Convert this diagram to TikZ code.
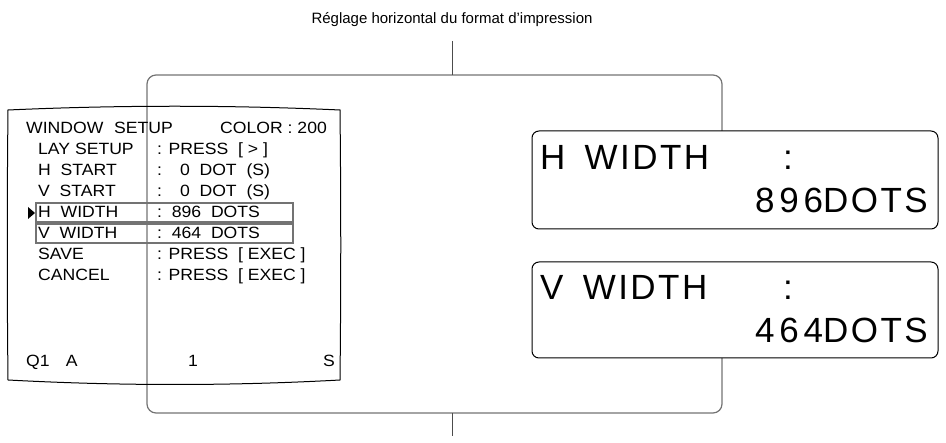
\documentclass[tikz,border=0pt]{standalone}
\usepackage{fontspec}
\setmainfont{Liberation Sans}
\newfontfamily\bigsp[LetterSpace=7]{Liberation Sans}
\newfontfamily\bigdig[LetterSpace=14]{Liberation Sans}
\newfontfamily\scrfont[FakeStretch=1.08]{Liberation Sans}
\begin{document}
\begin{tikzpicture}[x=1pt,y=-1pt,
  scr/.style={anchor=base west,inner sep=0pt,font=\fontsize{16.3}{17}\scrfont},
  bigt/.style={anchor=base west,inner sep=0pt,font=\fontsize{35}{36}\bigsp},
  gray frame/.style={draw=black!55,line width=1.2pt,rounded corners=9pt},
  hl/.style={draw=black!55,line width=1.2pt}]
\useasboundingbox (0,0) rectangle (946,443);
\node[anchor=base,inner sep=0pt,font=\fontsize{15}{16}\selectfont] (title) at (452,24) {Réglage horizontal du format d’impression};
% frame
\draw[gray frame] (722,131) -- (722,75) -- (147,75) -- (147,413) -- (722,413) -- (722,358);
\coordinate (ft) at (452,75);
\coordinate (fb) at (452,413);
\coordinate (tl) at (452,41);
\coordinate (bl) at (452,436);
\draw[black!70,line width=0.9pt] (tl) -- (ft);
\draw[black!70,line width=0.9pt] (fb) -- (bl);
% monitor
\draw[black,line width=1pt] (8,110) .. controls (120,105) and (230,105) .. (340,110)
  .. controls (341,200) and (341,290) .. (340,380)
  .. controls (230,386) and (120,386) .. (8,380)
  .. controls (7,290) and (7,200) .. (8,110) -- cycle;
\node[scr] (w) at (26,134) {WINDOW};
\node[scr] (w2) at (114,134) {SETUP};
\node[scr] (c) at (220,134) {COLOR : 200};
\foreach \y/\a/\b in {155/LAY SETUP/: PRESS\ \ [ > ],
  176/H\ \ START/:\hspace{1.1em}0\ \ DOT\ \ (S),
  197/V\ \ START/:\hspace{1.1em}0\ \ DOT\ \ (S),
  218/H\ \ WIDTH/:\ \ 896\ \ DOTS,
  239/V\ \ WIDTH/:\ \ 464\ \ DOTS,
  260/SAVE/: PRESS\ \ [ EXEC ],
  281/CANCEL/: PRESS\ \ [ EXEC ]}{
  \node[scr] at (38,\y) {\a};
  \node[scr] at (157,\y) {\b};
}
\node[scr] (q) at (26,367) {Q1\hspace{1em}A};
\node[scr] (one) at (188,367) {1};
\node[scr] (s) at (323,367) {S};
\draw[hl] (36,203) rectangle (293,222);
\draw[hl] (36,224) rectangle (293,243);
\fill (28,207) -- (35,213) -- (28,219) -- cycle;
% right boxes
\draw[fill=white,line width=1pt,rounded corners=7pt] (532,131) rectangle (938,229);
\draw[fill=white,line width=1pt,rounded corners=7pt] (532,262) rectangle (938,358);
\node[bigt] (h1) at (540,170) {H\hspace{0.55em}WIDTH};
\node[bigt] (h2) at (783,170) {:};
\node[bigt,anchor=base east] (h3) at (928,213) {{\bigdig 896}DOTS};
\node[bigt] (v1) at (540,300) {V\hspace{0.55em}WIDTH};
\node[bigt] (v2) at (783,300) {:};
\node[bigt,anchor=base east] (v3) at (928,343) {{\bigdig 464}DOTS};
\end{tikzpicture}
\end{document}
